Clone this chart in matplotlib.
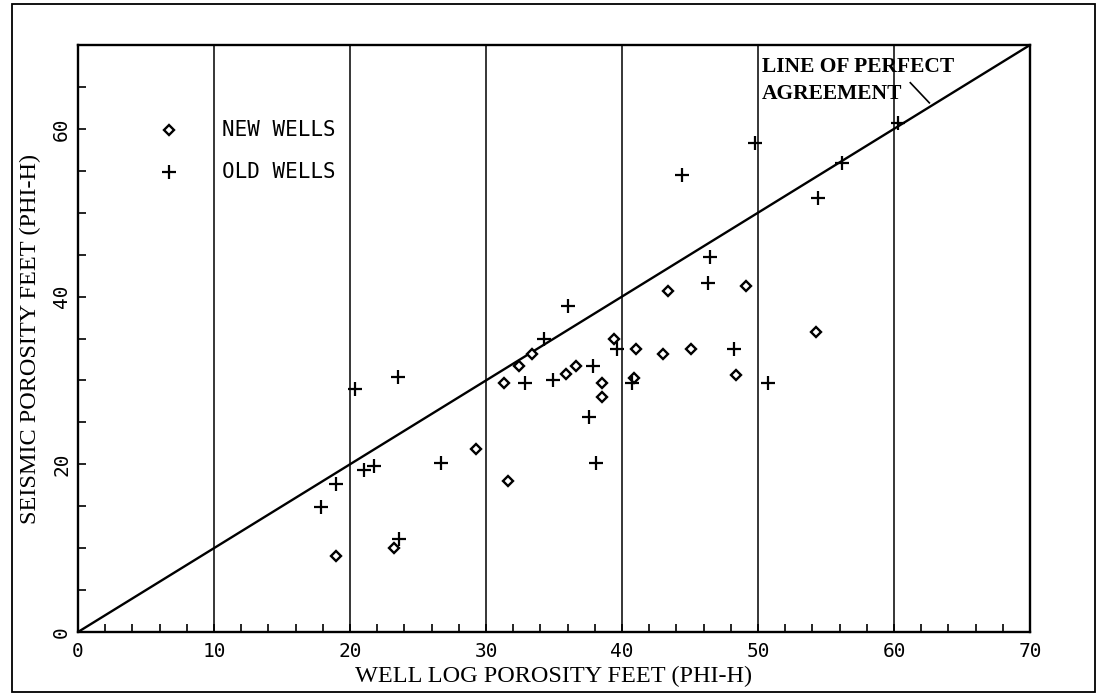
import matplotlib
matplotlib.use('Agg')
import matplotlib.pyplot as plt
from matplotlib.patches import Rectangle

# new wells (diamonds)
new_x = [19.0, 23.2, 29.3, 31.3, 31.6, 32.4, 33.4, 35.9, 36.6, 38.5,
         38.5, 39.4, 40.9, 41.0, 43.0, 43.4, 45.1, 48.4, 49.1, 54.3]
new_y = [9.1, 10.0, 21.8, 29.7, 18.0, 31.7, 33.1, 30.8, 31.7, 29.7,
         28.0, 34.9, 30.3, 33.7, 33.1, 40.7, 33.7, 30.6, 41.3, 35.8]

# old wells (plus signs)
old_x = [17.9, 19.0, 20.4, 21.0, 21.8, 23.5, 23.6, 26.7, 32.9, 34.3,
         34.9, 36.0, 37.6, 37.9, 38.1, 39.6, 40.7, 44.4, 46.3, 46.5,
         48.2, 49.8, 50.7, 54.4, 56.2, 60.3]
old_y = [14.9, 17.6, 29.0, 19.3, 19.8, 30.4, 11.1, 20.1, 29.7, 34.9,
         30.0, 38.9, 25.6, 31.7, 20.1, 33.7, 29.7, 54.5, 41.6, 44.7,
         33.7, 58.3, 29.7, 51.8, 55.9, 60.7]

grid_x = [10, 20, 30, 40, 50, 60]
x_labels = [0, 10, 20, 30, 40, 50, 60, 70]
y_labels = [0, 20, 40, 60]

mono = 'DejaVu Sans Mono'
serif = 'Liberation Serif'

fig = plt.figure(figsize=(11.03, 6.94), dpi=100)
ax = fig.add_axes([78 / 1103, 1 - 632 / 694, 952 / 1103, 587 / 694])

# border around whole figure
fig.patches.append(Rectangle((12 / 1103, 2 / 694), 1083 / 1103, 688 / 694,
                             transform=fig.transFigure, fill=False,
                             edgecolor='black', linewidth=1.3))

for gx in grid_x:
    ax.axvline(gx, color='black', linewidth=1.1, zorder=1)

ax.plot([0, 70], [0, 70], color='black', linewidth=1.7, zorder=2)

ax.plot(new_x, new_y, linestyle='none', marker='D', markersize=5.5,
        markerfacecolor='white', markeredgecolor='black',
        markeredgewidth=1.7, zorder=3)
ax.plot(old_x, old_y, linestyle='none', marker='+', markersize=10,
        color='black', markeredgewidth=1.6, zorder=3)

# legend drawn by hand like the original
ax.plot([6.7], [59.9], linestyle='none', marker='D', markersize=5.5,
        markerfacecolor='white', markeredgecolor='black', markeredgewidth=1.7)
ax.plot([6.7], [54.9], linestyle='none', marker='+', markersize=10,
        color='black', markeredgewidth=1.6)
ax.text(10.6, 59.9, 'NEW WELLS', family=mono, fontsize=15, va='center')
ax.text(10.6, 54.9, 'OLD WELLS', family=mono, fontsize=15, va='center')

# line annotation
ax.text(50.3, 67.4, 'LINE OF PERFECT', family=serif, fontweight='bold',
        fontsize=15.5, va='center')
ax.text(50.3, 64.1, 'AGREEMENT', family=serif, fontweight='bold',
        fontsize=15.5, va='center')
ax.plot([61.2, 62.6], [65.5, 63.1], color='black', linewidth=1.2)

ax.set_xlim(0, 70)
ax.set_ylim(0, 70)
ax.set_xticks(range(0, 71, 10))
ax.set_xticks(range(0, 71, 2), minor=True)
ax.set_xticklabels([str(v) for v in x_labels], family=mono, fontsize=14)
ax.set_yticks(y_labels)
ax.set_yticks(range(0, 71, 5), minor=True)
ax.set_yticklabels([str(v) for v in y_labels], family=mono, fontsize=14,
                   rotation=90, va='center')
ax.tick_params(which='both', direction='in', length=6, width=1.2)
ax.tick_params(axis='x', pad=7)
ax.tick_params(axis='y', pad=5)

for s in ax.spines.values():
    s.set_linewidth(1.7)

ax.set_xlabel('WELL LOG POROSITY FEET (PHI-H)', family=serif, fontsize=17.5,
              labelpad=4)
ax.set_ylabel('SEISMIC POROSITY FEET (PHI-H)', family=serif, fontsize=17.5,
              labelpad=8)

plt.savefig('out.png', dpi=100)
